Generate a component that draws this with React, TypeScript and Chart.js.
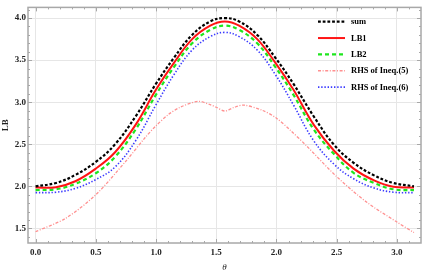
import React, { useEffect, useRef } from "react";
import { Chart, registerables } from "chart.js";

Chart.register(...registerables);

const PI = Math.PI;

// theta grid shared by sum, LB1, LB2, RHS(6)
const thetas = [
  0, 0.17, 0.33, 0.5, 0.66, 0.83, 1.0, 1.15, 1.3, 1.45, PI / 2,
  1.69, 1.84, 1.99, 2.14, 2.31, 2.48, 2.64, 2.81, 2.97, PI,
];
const sumValues = [
  2.0, 2.04, 2.135, 2.29, 2.5, 2.83, 3.22, 3.53, 3.8, 3.96, 4.0,
  3.96, 3.8, 3.53, 3.22, 2.83, 2.49, 2.28, 2.13, 2.04, 2.0,
];
const lb1Values = [
  1.985, 1.99, 2.06, 2.21, 2.405, 2.73, 3.15, 3.47, 3.75, 3.91, 3.96,
  3.91, 3.75, 3.47, 3.15, 2.73, 2.42, 2.21, 2.07, 1.995, 1.985,
];
const lb2Values = [
  1.955, 1.965, 2.03, 2.155, 2.35, 2.675, 3.09, 3.42, 3.7, 3.86, 3.91,
  3.86, 3.7, 3.42, 3.09, 2.675, 2.38, 2.16, 2.04, 1.965, 1.955,
];
const rhs6Values = [
  1.925, 1.93, 1.975, 2.08, 2.23, 2.54, 2.97, 3.33, 3.62, 3.78, 3.83,
  3.78, 3.62, 3.33, 2.97, 2.54, 2.26, 2.09, 1.98, 1.93, 1.925,
];

// RHS of Ineq.(5) has its own sample points (cusp at pi/2)
const thetas5 = [
  0, 0.25, 0.5, 0.75, 0.91, 1.0, 1.1, 1.2, 1.35, 1.45, 1.5, PI / 2,
  1.65, 1.73, 1.88, 2.0, 2.12, 2.25, 2.5, 2.75, 3.0, PI,
];
const rhs5Values = [
  1.46, 1.62, 1.9, 2.3, 2.58, 2.72, 2.85, 2.94, 3.01, 2.97, 2.94, 2.895,
  2.94, 2.965, 2.905, 2.81, 2.66, 2.48, 2.115, 1.81, 1.575, 1.45,
];

const seriesLabels = ["sum", "LB1", "LB2", "RHS of Ineq.(5)", "RHS of Ineq.(6)"];
const xTickValues = [0, 0.5, 1.0, 1.5, 2.0, 2.5, 3.0];
const yTickValues = [1.5, 2.0, 2.5, 3.0, 3.5, 4.0];

const X_MIN = -0.063;
const X_MAX = 3.2;
const Y_MIN = 1.326;
const Y_MAX = 4.127;
const MINOR_STEP = 0.1;

const toPoints = (xs: number[], ys: number[]) => xs.map((x, i) => ({ x, y: ys[i] }));

const FONT_FAMILY = "'Liberation Serif', 'Times New Roman', serif";

const framePlugin = {
  id: "frameAndLegend",
  afterDatasetsDraw(chart: any) {
    const { ctx, chartArea: a, scales } = chart;
    const xs = scales.x;
    const ys = scales.y;
    ctx.save();
    ctx.strokeStyle = "#a8a8a8";
    ctx.lineWidth = 1;
    ctx.setLineDash([]);
    ctx.beginPath();
    for (let i = Math.ceil(X_MIN / MINOR_STEP); i * MINOR_STEP <= X_MAX; i++) {
      const v = i * MINOR_STEP;
      const px = Math.round(xs.getPixelForValue(v)) + 0.5;
      if (px < a.left || px > a.right) continue;
      const len = i % 5 === 0 ? 4 : 2;
      ctx.moveTo(px, a.bottom);
      ctx.lineTo(px, a.bottom - len);
      ctx.moveTo(px, a.top);
      ctx.lineTo(px, a.top + len);
    }
    for (let i = Math.ceil(Y_MIN / MINOR_STEP); i * MINOR_STEP <= Y_MAX; i++) {
      const v = i * MINOR_STEP;
      const py = Math.round(ys.getPixelForValue(v)) + 0.5;
      if (py < a.top || py > a.bottom) continue;
      const len = i % 5 === 0 ? 4 : 2;
      ctx.moveTo(a.left, py);
      ctx.lineTo(a.left + len, py);
      ctx.moveTo(a.right, py);
      ctx.lineTo(a.right - len, py);
    }
    ctx.stroke();
    ctx.lineWidth = 1.5;
    ctx.strokeRect(a.left, a.top, a.right - a.left, a.bottom - a.top);

    // legend inside top-right
    const sx0 = a.right - 103;
    const sx1 = a.right - 76;
    const tx = a.right - 70;
    const y0 = a.top + 14.3;
    const dy = 16.35;
    ctx.font = `bold 8.5px ${FONT_FAMILY}`;
    ctx.textBaseline = "middle";
    ctx.textAlign = "left";
    chart.data.datasets.forEach((ds: any, i: number) => {
      const y = y0 + i * dy;
      ctx.strokeStyle = ds.borderColor;
      ctx.lineWidth = ds.borderWidth;
      ctx.setLineDash(ds.borderDash || []);
      ctx.beginPath();
      ctx.moveTo(sx0, y);
      ctx.lineTo(sx1, y);
      ctx.stroke();
      ctx.setLineDash([]);
      ctx.fillStyle = "#000";
      ctx.fillText(ds.label, tx, y + 0.5);
    });
    ctx.restore();
  },
};

export default function App() {
  const canvasRef = useRef<HTMLCanvasElement | null>(null);

  useEffect(() => {
    document.body.style.margin = "0";
    const canvas = canvasRef.current;
    if (!canvas) return;
    const common = {
      fill: false,
      pointRadius: 0,
      tension: 0.4,
      borderCapStyle: "butt" as const,
    };
    const chart = new Chart(canvas, {
      type: "line",
      data: {
        datasets: [
          {
            ...common,
            label: seriesLabels[0],
            data: toPoints(thetas, sumValues),
            borderColor: "#000000",
            borderWidth: 2.2,
            borderDash: [2.8, 1.9],
          },
          {
            ...common,
            label: seriesLabels[1],
            data: toPoints(thetas, lb1Values),
            borderColor: "#ff1414",
            borderWidth: 2,
          },
          {
            ...common,
            label: seriesLabels[2],
            data: toPoints(thetas, lb2Values),
            borderColor: "#1ee61e",
            borderWidth: 2.2,
            borderDash: [4, 3],
          },
          {
            ...common,
            tension: 0.3,
            label: seriesLabels[3],
            data: toPoints(thetas5, rhs5Values),
            borderColor: "#ff9090",
            borderWidth: 1.3,
            borderDash: [3, 1.6, 1, 1.6],
          },
          {
            ...common,
            label: seriesLabels[4],
            data: toPoints(thetas, rhs6Values),
            borderColor: "#3a3aff",
            borderWidth: 1.6,
            borderDash: [1.4, 1.8],
          },
        ],
      },
      options: {
        responsive: false,
        animation: false,
        devicePixelRatio: 1,
        layout: { padding: { top: 1, right: 4, left: 0, bottom: 0 } },
        plugins: {
          legend: { display: false },
          tooltip: { enabled: false },
        },
        scales: {
          x: {
            type: "linear",
            min: X_MIN,
            max: X_MAX,
            afterFit: (s: any) => {
              s.height = 30;
            },
            afterBuildTicks: (s: any) => {
              s.ticks = xTickValues.map((v) => ({ value: v }));
            },
            grid: { color: "#e6e6e6", lineWidth: 1, drawTicks: false },
            border: { display: false },
            ticks: {
              padding: 4,
              autoSkip: false,
              maxRotation: 0,
              color: "#222",
              font: { family: FONT_FAMILY, size: 9, weight: "bold" },
              callback: (v: any) => Number(v).toFixed(1),
            },
            title: {
              display: true,
              text: "θ",
              color: "#222",
              padding: { top: 0, bottom: 0 },
              font: { family: FONT_FAMILY, size: 9, style: "italic" },
            },
          },
          y: {
            type: "linear",
            min: Y_MIN,
            max: Y_MAX,
            afterFit: (s: any) => {
              s.width = 28;
            },
            afterBuildTicks: (s: any) => {
              s.ticks = yTickValues.map((v) => ({ value: v }));
            },
            grid: { color: "#e6e6e6", lineWidth: 1, drawTicks: false },
            border: { display: false },
            ticks: {
              padding: 2,
              color: "#222",
              font: { family: FONT_FAMILY, size: 9, weight: "bold" },
              callback: (v: any) => Number(v).toFixed(1),
            },
            title: {
              display: true,
              text: "LB",
              color: "#222",
              padding: { top: 0, bottom: 0 },
              font: { family: FONT_FAMILY, size: 9, weight: "bold" },
            },
          },
        },
      },
      plugins: [framePlugin],
    });
    return () => chart.destroy();
  }, []);

  return (
    <div style={{ width: 425, height: 273, background: "#fff" }}>
      <canvas ref={canvasRef} width={425} height={273} />
    </div>
  );
}
